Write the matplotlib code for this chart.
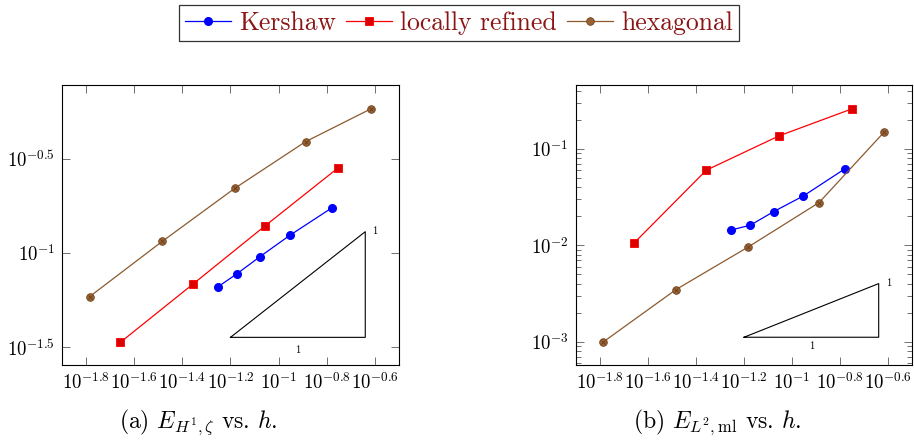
import numpy as np
import matplotlib
matplotlib.use('Agg')
import matplotlib.pyplot as plt
from matplotlib.ticker import FixedLocator, FuncFormatter, LogLocator, NullLocator

plt.rcParams['font.family'] = ['cmr10', 'DejaVu Serif']
plt.rcParams['mathtext.fontset'] = 'cm'
plt.rcParams['axes.unicode_minus'] = False

# mesh size h (log10) and errors
h_kershaw = [-1.253, -1.174, -1.077, -0.953, -0.779]
h_refined = [-1.657, -1.357, -1.055, -0.752]
h_hexa = [-1.785, -1.483, -1.182, -0.888, -0.618]

# (a) E_H1 (log10)
eh1_kershaw = [-1.180, -1.111, -1.019, -0.906, -0.761]
eh1_refined = [-1.473, -1.166, -0.855, -0.548]
eh1_hexa = [-1.231, -0.938, -0.657, -0.410, -0.237]

# (b) E_L2 (log10)
el2_kershaw = [-1.841, -1.792, -1.651, -1.488, -1.204]
el2_refined = [-1.976, -1.221, -0.865, -0.585]
el2_hexa = [-3.003, -2.460, -2.017, -1.557, -0.827]

# slope triangles (log10 corners)
tri_a = [(-1.2, -1.447), (-0.64, -1.447), (-0.64, -0.887)]
tri_b = [(-1.2, -2.955), (-0.64, -2.955), (-0.64, -2.398)]

xticks = [-1.8, -1.6, -1.4, -1.2, -1.0, -0.8, -0.6]
yticks_a = [-1.5, -1.0, -0.5]

blue = '#0000ff'
red = '#ff0000'
red_mk = '#dd0000'
brown = '#8c5a2e'


def exp_fmt(v):
    e = np.log10(v)
    s = ('%.1f' % e).rstrip('0').rstrip('.')
    return r'$10^{%s}$' % s


def draw(ax, ek, er, eh, tri):
    ax.plot(10 ** np.array(h_kershaw), 10 ** np.array(ek), '-o', color=blue,
            lw=0.9, ms=5.5, mfc=blue, mec=blue, label='Kershaw')
    ax.plot(10 ** np.array(h_refined), 10 ** np.array(er), '-s', color=red,
            lw=0.9, ms=5.5, mfc=red_mk, mec=red, mew=0.6, label='locally refined')
    ax.plot(10 ** np.array(h_hexa), 10 ** np.array(eh), '-o', color=brown,
            lw=0.9, ms=5.5, mfc='#9a6232', mec='#6e4420', mew=0.6, label='hexagonal')
    ax.plot(10 ** np.array(h_hexa), 10 ** np.array(eh), 'x', color='#5a3818',
            ms=3.5, mew=0.5)
    tx = [10 ** p[0] for p in tri] + [10 ** tri[0][0]]
    ty = [10 ** p[1] for p in tri] + [10 ** tri[0][1]]
    ax.plot(tx, ty, color='black', lw=0.8)
    xm = 10 ** ((tri[0][0] + tri[1][0]) / 2)
    ax.text(xm, 10 ** tri[0][1] * 0.9, '1', ha='center', va='top', fontsize=7.5)
    ax.text(10 ** (tri[2][0] + 0.03), 10 ** tri[2][1], '1', ha='left', va='center',
            fontsize=7.5)

    ax.set_xscale('log')
    ax.set_yscale('log')
    ax.set_xlim(10 ** -1.9, 10 ** -0.5)
    ax.xaxis.set_major_locator(FixedLocator([10 ** t for t in xticks]))
    ax.xaxis.set_minor_locator(NullLocator())
    ax.xaxis.set_major_formatter(FuncFormatter(lambda v, p: exp_fmt(v)))
    ax.tick_params(which='both', direction='in', top=True, right=True,
                   color='0.35', width=0.6, labelsize=13.5)
    ax.tick_params(which='major', length=6, pad=5)
    ax.tick_params(which='minor', length=3.5)
    for s in ax.spines.values():
        s.set_linewidth(0.8)


fig = plt.figure(figsize=(9.14, 4.41), dpi=100)
ax1 = fig.add_axes([0.0678, 0.1717, 0.3687, 0.635])
ax2 = fig.add_axes([0.6299, 0.1717, 0.3683, 0.635])

draw(ax1, eh1_kershaw, eh1_refined, eh1_hexa, tri_a)
ax1.set_ylim(10 ** -1.595, 10 ** -0.111)
ax1.yaxis.set_major_locator(FixedLocator([10 ** t for t in yticks_a]))
ax1.yaxis.set_minor_locator(NullLocator())
ax1.yaxis.set_major_formatter(FuncFormatter(lambda v, p: exp_fmt(v)))

draw(ax2, el2_kershaw, el2_refined, el2_hexa, tri_b)
ax2.set_ylim(10 ** -3.246, 10 ** -0.339)
ax2.yaxis.set_major_locator(FixedLocator([1e-3, 1e-2, 1e-1]))
ax2.yaxis.set_minor_locator(LogLocator(base=10, subs=np.arange(2, 10)))
ax2.yaxis.set_major_formatter(FuncFormatter(lambda v, p: exp_fmt(v)))

handles, labels = ax1.get_legend_handles_labels()
leg = fig.legend(handles, labels, loc='center', bbox_to_anchor=(0.502, 0.948),
                 ncol=3, fontsize=18.5, frameon=True, fancybox=False,
                 edgecolor='black', handlelength=1.8, handletextpad=0.3,
                 columnspacing=0.4, borderpad=0.25, borderaxespad=0)
leg.get_frame().set_linewidth(0.9)
for t in leg.get_texts():
    t.set_color('#8b1414')

fig.text(0.2172, 0.043, r'(a) $E_{H^1,\zeta}$ vs. $h$.', ha='center', va='center',
         fontsize=17)
fig.text(0.785, 0.043, r'(b) $E_{L^2,\mathrm{ml}}$ vs. $h$.', ha='center',
         va='center', fontsize=17)

fig.savefig('out.png', dpi=100)
